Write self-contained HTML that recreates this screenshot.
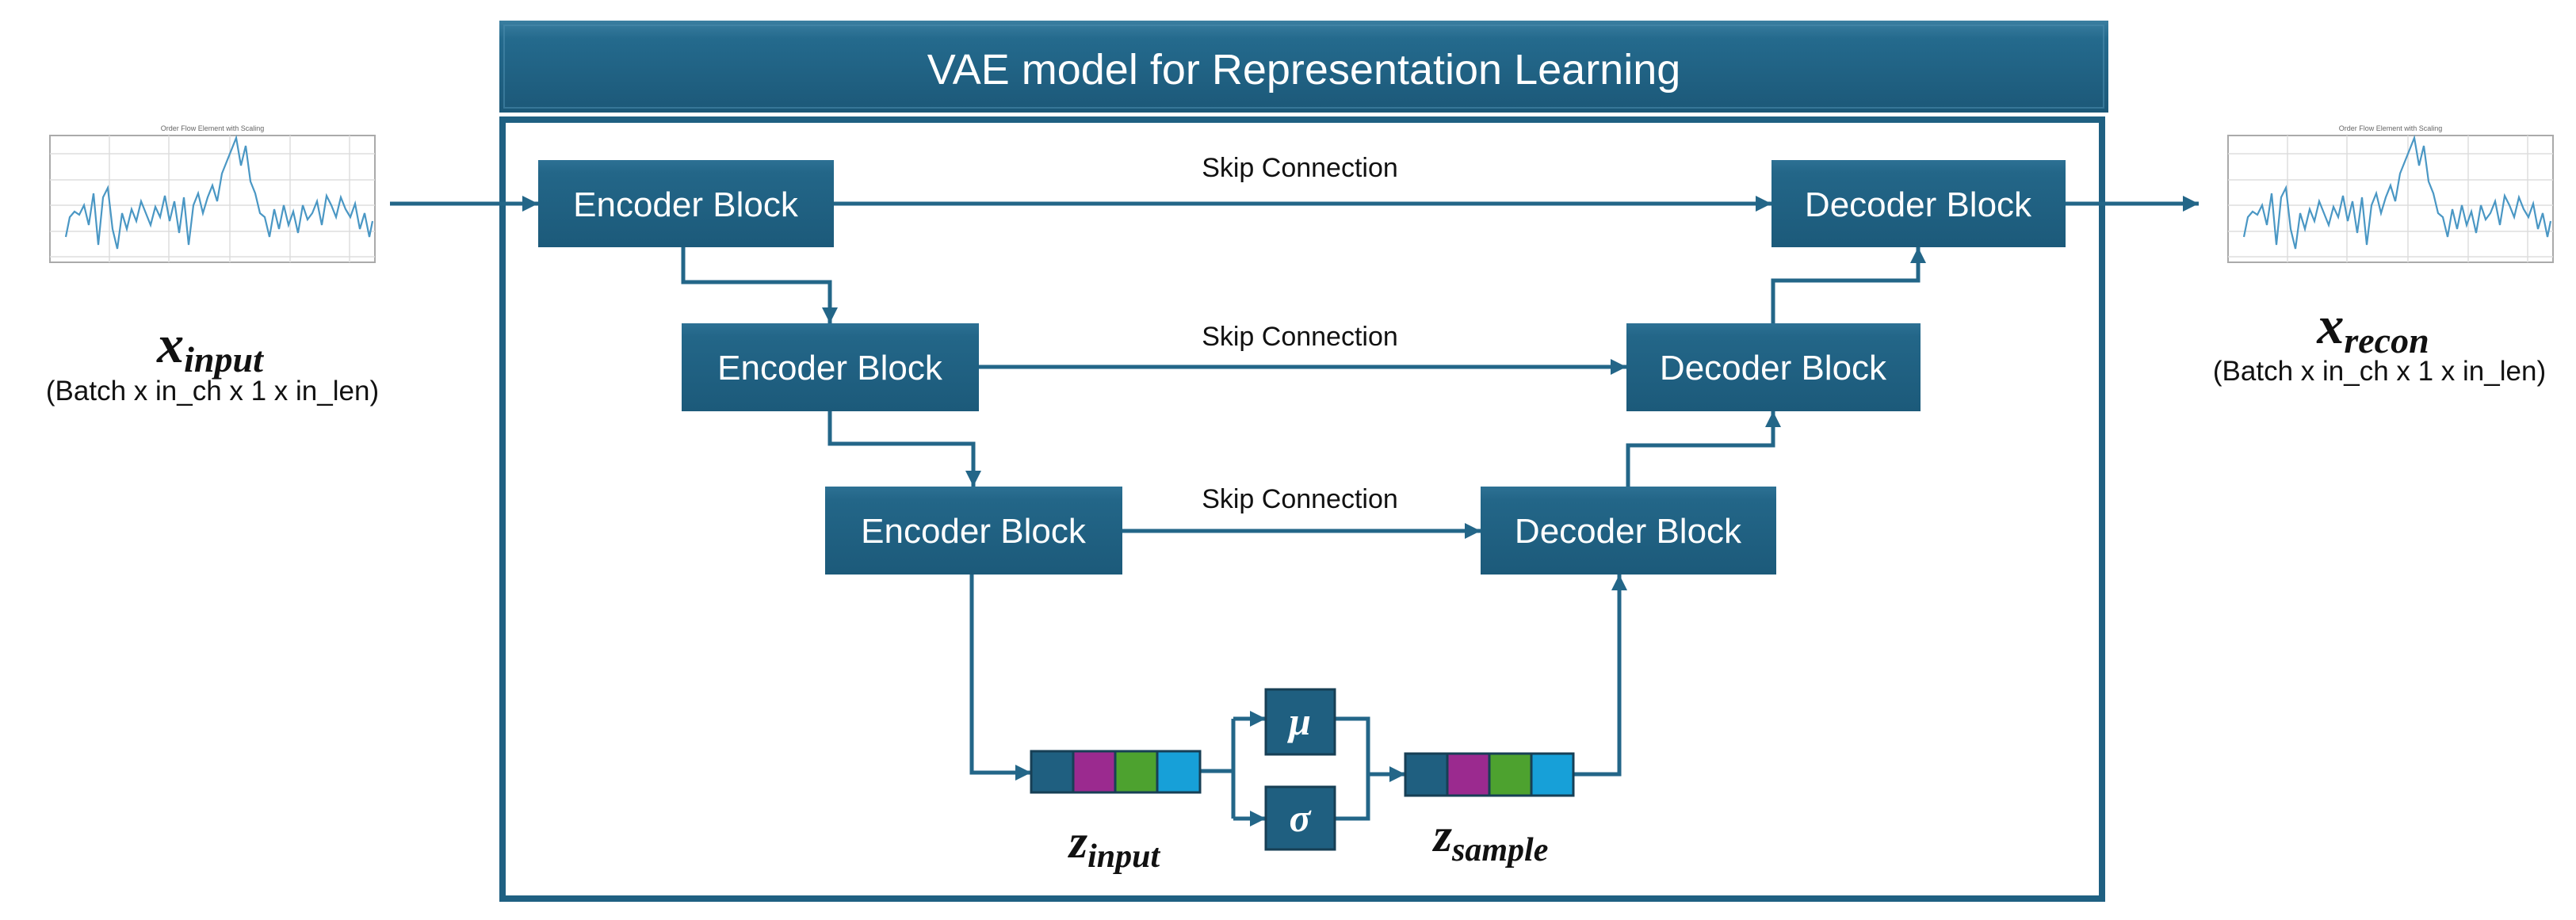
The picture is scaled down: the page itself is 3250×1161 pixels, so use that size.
<!DOCTYPE html>
<html><head><meta charset="utf-8"><style>
html,body{margin:0;padding:0;background:#fff;}
svg{display:block;}
</style></head><body>
<svg width="3250" height="1161" viewBox="0 0 3250 1161" xmlns="http://www.w3.org/2000/svg">
<defs>
<linearGradient id="bg" x1="0" y1="0" x2="0" y2="1">
<stop offset="0" stop-color="#2d7194"/><stop offset="0.15" stop-color="#236688"/><stop offset="1" stop-color="#1c5a7a"/>
</linearGradient>
<linearGradient id="tg" x1="0" y1="0" x2="0" y2="1">
<stop offset="0" stop-color="#3b7ea0"/><stop offset="0.2" stop-color="#246a8d"/><stop offset="1" stop-color="#1c5878"/>
</linearGradient>
<marker id="ar" viewBox="0 0 10 10" refX="10" refY="5" markerWidth="4" markerHeight="4" orient="auto" markerUnits="strokeWidth">
<path d="M0,0 L10,5 L0,10 z" fill="#236688"/>
</marker>
<g id="chart">
<rect x="0" y="0" width="456" height="211" fill="#fff"/>
<rect x="35" y="22" width="410" height="160" fill="none" stroke="#aaa" stroke-width="2"/>
<g stroke="#ddd" stroke-width="1.5">
<line x1="35" y1="45" x2="445" y2="45"/><line x1="35" y1="78" x2="445" y2="78"/><line x1="35" y1="110" x2="445" y2="110"/><line x1="35" y1="143" x2="445" y2="143"/><line x1="35" y1="175" x2="445" y2="175"/>
<line x1="110" y1="22" x2="110" y2="182"/><line x1="185" y1="22" x2="185" y2="182"/><line x1="262" y1="22" x2="262" y2="182"/><line x1="338" y1="22" x2="338" y2="182"/><line x1="413" y1="22" x2="413" y2="182"/>
</g>
<text x="240" y="16" font-family="Liberation Sans" font-size="9" fill="#666" text-anchor="middle">Order Flow Element with Scaling</text>
<polyline fill="none" stroke="#4a97c4" stroke-width="2.2" points="55,150 60,125 66,118 72,122 78,110 84,135 90,95 96,160 102,100 108,88 114,140 120,165 126,120 132,140 138,115 144,130 150,105 156,120 162,135 168,112 174,125 180,98 186,130 192,105 198,145 204,100 210,160 216,110 222,95 228,120 234,100 240,85 246,105 252,70 258,55 264,40 270,25 276,60 282,35 288,80 294,95 300,120 306,125 312,150 318,115 324,140 330,110 336,135 342,118 348,145 354,110 360,128 366,120 372,105 378,135 384,98 390,110 396,125 402,100 408,115 414,125 420,108 426,140 432,120 438,150 442,130"/>
</g>
</defs>

<!-- title bar -->
<rect x="630" y="26" width="2030" height="116" fill="url(#tg)"/>
<rect x="636" y="32" width="2018" height="104" fill="none" stroke="#4a8aab" stroke-width="2" opacity="0.6"/>
<text x="1645" y="106" font-family="Liberation Sans" font-size="54" fill="#fff" text-anchor="middle">VAE model for Representation Learning</text>

<!-- main box -->
<rect x="634" y="151" width="2018" height="983" fill="none" stroke="#1f6082" stroke-width="8"/>

<!-- charts -->
<use href="#chart" x="28" y="149"/>
<use href="#chart" x="2776" y="149"/>

<!-- labels -->
<text x="265" y="457" font-family="Liberation Serif" font-style="italic" font-weight="bold" font-size="68" text-anchor="middle" fill="#111">x<tspan font-size="46" dy="12">input</tspan></text>
<text x="268" y="505" font-family="Liberation Sans" font-size="35" text-anchor="middle" fill="#111">(Batch x in_ch x 1 x in_len)</text>
<text x="2994" y="433" font-family="Liberation Serif" font-style="italic" font-weight="bold" font-size="68" text-anchor="middle" fill="#111">x<tspan font-size="46" dy="12">recon</tspan></text>
<text x="3002" y="480" font-family="Liberation Sans" font-size="35" text-anchor="middle" fill="#111">(Batch x in_ch x 1 x in_len)</text>

<!-- connectors -->
<g fill="none" stroke="#236688" stroke-width="5">
<line x1="492" y1="257" x2="679" y2="257" marker-end="url(#ar)"/>
<line x1="2606" y1="257" x2="2774" y2="257" marker-end="url(#ar)"/>
<line x1="1052" y1="257" x2="2235" y2="257" marker-end="url(#ar)"/>
<line x1="1235" y1="463" x2="2052" y2="463" marker-end="url(#ar)"/>
<line x1="1416" y1="670" x2="1868" y2="670" marker-end="url(#ar)"/>
<polyline points="862,312 862,356 1047,356 1047,408" marker-end="url(#ar)"/>
<polyline points="1047,519 1047,560 1228,560 1228,614" marker-end="url(#ar)"/>
<polyline points="1226,725 1226,975 1301,975" marker-end="url(#ar)"/>
<polyline points="1514,973 1556,973"/>
<polyline points="1556,907 1556,1033"/>
<line x1="1556" y1="907" x2="1597" y2="907" marker-end="url(#ar)"/>
<line x1="1556" y1="1033" x2="1597" y2="1033" marker-end="url(#ar)"/>
<polyline points="1684,907 1726,907 1726,1033 1684,1033"/>
<line x1="1726" y1="977" x2="1773" y2="977" marker-end="url(#ar)"/>
<polyline points="1985,977 2043,977 2043,725" marker-end="url(#ar)"/>
<polyline points="2054,614 2054,562 2237,562 2237,519" marker-end="url(#ar)"/>
<polyline points="2237,408 2237,354 2420,354 2420,312" marker-end="url(#ar)"/>
</g>

<!-- skip labels -->
<g font-family="Liberation Sans" font-size="34" fill="#111" text-anchor="middle">
<text x="1640" y="223">Skip Connection</text>
<text x="1640" y="436">Skip Connection</text>
<text x="1640" y="641">Skip Connection</text>
</g>

<!-- blocks -->
<g font-family="Liberation Sans" font-size="44" fill="#fff" text-anchor="middle">
<rect x="679" y="202" width="373" height="110" fill="url(#bg)"/><text x="865" y="273">Encoder Block</text>
<rect x="860" y="408" width="375" height="111" fill="url(#bg)"/><text x="1047" y="479">Encoder Block</text>
<rect x="1041" y="614" width="375" height="111" fill="url(#bg)"/><text x="1228" y="685">Encoder Block</text>
<rect x="2235" y="202" width="371" height="110" fill="url(#bg)"/><text x="2420" y="273">Decoder Block</text>
<rect x="2052" y="408" width="371" height="111" fill="url(#bg)"/><text x="2237" y="479">Decoder Block</text>
<rect x="1868" y="614" width="373" height="111" fill="url(#bg)"/><text x="2054" y="685">Decoder Block</text>
</g>

<!-- latent vectors -->
<g stroke="#173f55" stroke-width="3">
<rect x="1301" y="948" width="53" height="52" fill="#1f5f80"/>
<rect x="1354" y="948" width="53" height="52" fill="#9b2a8f"/>
<rect x="1407" y="948" width="53" height="52" fill="#4da22f"/>
<rect x="1460" y="948" width="54" height="52" fill="#17a0d8"/>
<rect x="1773" y="951" width="53" height="53" fill="#1f5f80"/>
<rect x="1826" y="951" width="53" height="53" fill="#9b2a8f"/>
<rect x="1879" y="951" width="53" height="53" fill="#4da22f"/>
<rect x="1932" y="951" width="53" height="53" fill="#17a0d8"/>
<rect x="1597" y="870" width="87" height="82" fill="#1f5f80"/>
<rect x="1597" y="993" width="87" height="79" fill="#1f5f80"/>
</g>
<g font-family="Liberation Serif" font-style="italic" font-weight="bold" font-size="50" fill="#fff" text-anchor="middle">
<text x="1640" y="927">μ</text>
<text x="1640" y="1049">σ</text>
</g>
<text x="1406" y="1082" font-family="Liberation Serif" font-style="italic" font-weight="bold" font-size="60" text-anchor="middle" fill="#111">z<tspan font-size="42" dy="12">input</tspan></text>
<text x="1881" y="1074" font-family="Liberation Serif" font-style="italic" font-weight="bold" font-size="60" text-anchor="middle" fill="#111">z<tspan font-size="42" dy="12">sample</tspan></text>
</svg>
</body></html>
